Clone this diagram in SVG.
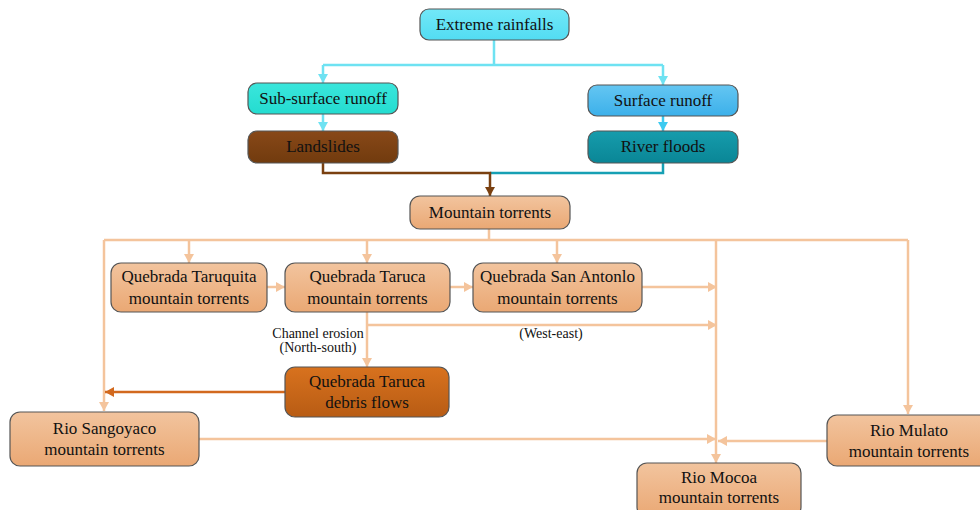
<svg xmlns="http://www.w3.org/2000/svg" width="980" height="510" viewBox="0 0 980 510">
<defs>
<linearGradient id="gCyan" x1="0" y1="0" x2="0" y2="1"><stop offset="0" stop-color="#72e8f8"/><stop offset="1" stop-color="#52dcf2"/></linearGradient>
<linearGradient id="gTurq" x1="0" y1="0" x2="0" y2="1"><stop offset="0" stop-color="#3ae6dc"/><stop offset="1" stop-color="#24dcd0"/></linearGradient>
<linearGradient id="gBlue" x1="0" y1="0" x2="0" y2="1"><stop offset="0" stop-color="#64c6f2"/><stop offset="1" stop-color="#3cb0ea"/></linearGradient>
<linearGradient id="gBrown" x1="0" y1="0" x2="0" y2="1"><stop offset="0" stop-color="#884818"/><stop offset="1" stop-color="#713b0e"/></linearGradient>
<linearGradient id="gTeal" x1="0" y1="0" x2="0" y2="1"><stop offset="0" stop-color="#169cac"/><stop offset="1" stop-color="#0a8696"/></linearGradient>
<linearGradient id="gTan" x1="0" y1="0" x2="0" y2="1"><stop offset="0" stop-color="#f2c49e"/><stop offset="1" stop-color="#eaa874"/></linearGradient>
<linearGradient id="gOrange" x1="0" y1="0" x2="0" y2="1"><stop offset="0" stop-color="#d8721e"/><stop offset="1" stop-color="#b85c14"/></linearGradient>
<marker id="aCyan" markerUnits="userSpaceOnUse" markerWidth="10" markerHeight="10" refX="9" refY="5" orient="auto"><path d="M0,0 L9,5 L0,10 z" fill="#6ee2f2"/></marker>
<marker id="aBlue" markerUnits="userSpaceOnUse" markerWidth="10" markerHeight="10" refX="9" refY="5" orient="auto"><path d="M0,0 L9,5 L0,10 z" fill="#3ccaf0"/></marker>
<marker id="aBrown" markerUnits="userSpaceOnUse" markerWidth="10" markerHeight="10" refX="9" refY="5" orient="auto"><path d="M0,0 L9,5 L0,10 z" fill="#7a4010"/></marker>
<marker id="aPeach" markerUnits="userSpaceOnUse" markerWidth="10" markerHeight="10" refX="9" refY="5" orient="auto"><path d="M0,0 L9,5 L0,10 z" fill="#f4c49c"/></marker>
<marker id="aOrange" markerUnits="userSpaceOnUse" markerWidth="10" markerHeight="10" refX="9" refY="5" orient="auto"><path d="M0,0 L9,5 L0,10 z" fill="#d2691e"/></marker>
</defs>
<style>
.box{stroke:#555;stroke-width:1.2}
.t{font-family:"Liberation Serif","Times New Roman",serif;font-size:17px;fill:#111;text-anchor:middle}
.s{font-family:"Liberation Serif","Times New Roman",serif;font-size:14px;fill:#111;text-anchor:middle}
.c{fill:none;stroke-width:2.5}
.cy{stroke:#6ee2f2}
.bl{stroke:#3ccaf0}
.br{stroke:#7a4010}
.tl{stroke:#16a0b4}
.pe{stroke:#f4c49c}
.or{stroke:#d2691e}
</style>
<g id="connectors">
<path class="c cy" d="M494,40 V65 M323,65 H663"/>
<path class="c cy" d="M323,65 V83" marker-end="url(#aCyan)"/>
<path class="c cy" d="M663,65 V85" marker-end="url(#aCyan)"/>
<path class="c cy" d="M323,114 V131" marker-end="url(#aCyan)"/>
<path class="c bl" d="M663,116 V131" marker-end="url(#aBlue)"/>
<path class="c tl" d="M663,163 V173 H490"/>
<path class="c br" d="M323,163 V173 H490 V196" marker-end="url(#aBrown)"/>
<path class="c pe" d="M489,229 V240 M104,240 H908"/>
<path class="c pe" d="M104,240 V411" marker-end="url(#aPeach)"/>
<path class="c pe" d="M189,240 V263" marker-end="url(#aPeach)"/>
<path class="c pe" d="M367,240 V263" marker-end="url(#aPeach)"/>
<path class="c pe" d="M557,240 V263" marker-end="url(#aPeach)"/>
<path class="c pe" d="M716,240 V463" marker-end="url(#aPeach)"/>
<path class="c pe" d="M908,240 V414" marker-end="url(#aPeach)"/>
<path class="c pe" d="M267,287 H285" marker-end="url(#aPeach)"/>
<path class="c pe" d="M450,287 H473" marker-end="url(#aPeach)"/>
<path class="c pe" d="M642,287 H717" marker-end="url(#aPeach)"/>
<path class="c pe" d="M367,312 V367" marker-end="url(#aPeach)"/>
<path class="c pe" d="M367,325 H717" marker-end="url(#aPeach)"/>
<path class="c pe" d="M199,439 H716" marker-end="url(#aPeach)"/>
<path class="c pe" d="M827,441 H718" marker-end="url(#aPeach)"/>
<path class="c or" d="M285,392 H105" marker-end="url(#aOrange)"/>
</g>
<text class="s" x="318" y="338">Channel erosion</text>
<text class="s" x="318" y="352">(North-south)</text>
<text class="s" x="551" y="338">(West-east)</text>
<g id="extreme"><rect class="box" x="420" y="9" width="149" height="31" rx="9" fill="url(#gCyan)"/><text class="t" x="494.5" y="30">Extreme rainfalls</text></g>
<g id="subsurface"><rect class="box" x="248" y="83" width="150" height="31" rx="9" fill="url(#gTurq)"/><text class="t" x="323" y="104">Sub-surface runoff</text></g>
<g id="surface"><rect class="box" x="588" y="85" width="150" height="31" rx="9" fill="url(#gBlue)"/><text class="t" x="663" y="106">Surface runoff</text></g>
<g id="landslides"><rect class="box" x="248" y="131" width="150" height="32" rx="9" fill="url(#gBrown)"/><text class="t" x="323" y="152">Landslides</text></g>
<g id="riverfloods"><rect class="box" x="588" y="131" width="150" height="32" rx="9" fill="url(#gTeal)"/><text class="t" x="663" y="152">River floods</text></g>
<g id="mountain"><rect class="box" x="410" y="196" width="160" height="33" rx="10" fill="url(#gTan)"/><text class="t" x="490" y="218">Mountain torrents</text></g>
<g id="taruquita"><rect class="box" x="111" y="263" width="156" height="49" rx="10" fill="url(#gTan)"/><text class="t" x="189" y="282">Quebrada Taruquita</text><text class="t" x="189" y="304">mountain torrents</text></g>
<g id="taruca"><rect class="box" x="285" y="263" width="165" height="49" rx="10" fill="url(#gTan)"/><text class="t" x="367.5" y="282">Quebrada Taruca</text><text class="t" x="367.5" y="304">mountain torrents</text></g>
<g id="sanantonlo"><rect class="box" x="473" y="263" width="169" height="49" rx="10" fill="url(#gTan)"/><text class="t" x="557.5" y="282">Quebrada San Antonlo</text><text class="t" x="557.5" y="304">mountain torrents</text></g>
<g id="debris"><rect class="box" x="285" y="367" width="164" height="50" rx="10" fill="url(#gOrange)"/><text class="t" x="367" y="387">Quebrada Taruca</text><text class="t" x="367" y="408">debris flows</text></g>
<g id="sangoyaco"><rect class="box" x="10" y="412" width="189" height="54" rx="10" fill="url(#gTan)"/><text class="t" x="104.5" y="434">Rio Sangoyaco</text><text class="t" x="104.5" y="455">mountain torrents</text></g>
<g id="mulato"><rect class="box" x="827" y="415" width="164" height="51" rx="10" fill="url(#gTan)"/><text class="t" x="909" y="436">Rio Mulato</text><text class="t" x="909" y="457">mountain torrents</text></g>
<g id="mocoa"><rect class="box" x="637" y="463" width="164" height="54" rx="10" fill="url(#gTan)"/><text class="t" x="719" y="483">Rio Mocoa</text><text class="t" x="719" y="503">mountain torrents</text></g>
</svg>
